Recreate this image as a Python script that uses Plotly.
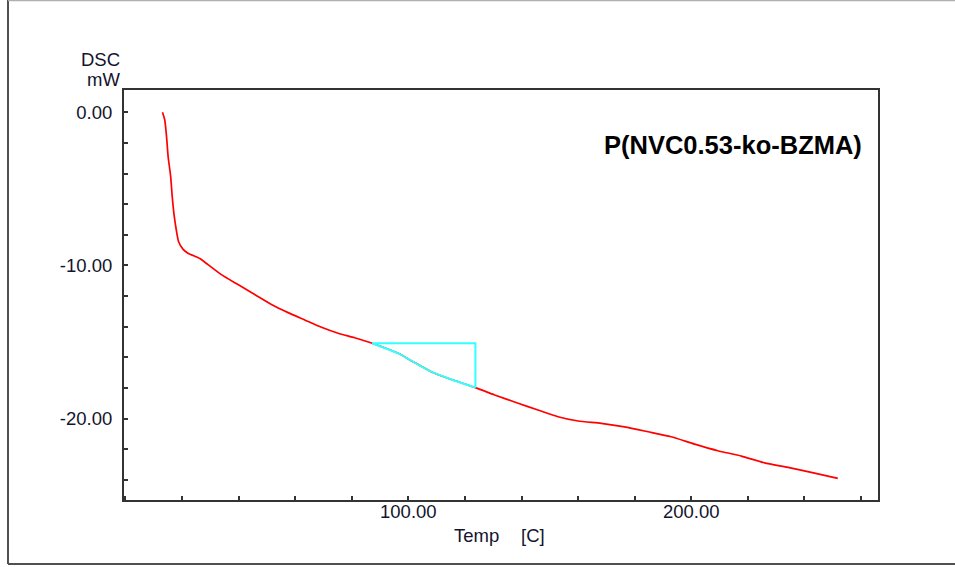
import plotly.graph_objects as go

# DSC curve
temp = [13.1, 13.9, 14.5, 15.1, 16.0, 16.5, 17.2, 18.0, 18.8, 20.4, 22.1, 26.3, 29.2, 33.9,
        39.8, 45.7, 51.6, 57.5, 63.4, 69.3, 75.2, 81.0, 87.2, 96.4, 101.7, 108.1, 114.0,
        123.7, 130.5, 138.8, 145.8, 152.9, 160.0, 168.2, 176.4, 184.7, 192.9, 201.2,
        209.4, 217.7, 225.9, 234.2, 242.4, 251.8]
dsc = [0.0, -0.5, -1.5, -2.9, -4.2, -5.4, -6.7, -7.7, -8.45, -8.95, -9.2, -9.55, -9.95,
       -10.6, -11.25, -11.9, -12.55, -13.08, -13.56, -14.04, -14.43, -14.72, -15.08, -15.74,
       -16.29, -16.94, -17.37, -17.98, -18.46, -19.0, -19.44, -19.88, -20.16, -20.31,
       -20.54, -20.86, -21.19, -21.67, -22.1, -22.45, -22.89, -23.19, -23.52, -23.91]

# Cyan glass-transition construction
tg_curve_t = [87.2, 96.4, 101.7, 108.1, 114.0, 123.7]
tg_curve_d = [-15.08, -15.74, -16.29, -16.94, -17.37, -17.98]
tg_box_t = [87.2, 123.7, 123.7]
tg_box_d = [-15.08, -15.08, -17.98]

x_tickvals = [100, 200]
x_ticktext = ["100.00", "200.00"]
y_tickvals = [0, -10, -20]
y_ticktext = ["0.00", "-10.00", "-20.00"]

title_text = "P(NVC0.53-ko-BZMA)"

FONT = "Arial, Liberation Sans, sans-serif"
TXT = "#14142c"

fig = go.Figure()
fig.add_trace(go.Scatter(x=temp, y=dsc, mode="lines", line_shape="spline",
                         line=dict(color="#ff0000", width=1.7, smoothing=0.6),
                         hoverinfo="skip"))
fig.add_trace(go.Scatter(x=tg_curve_t, y=tg_curve_d, mode="lines", line_shape="spline",
                         line=dict(color="#33ffff", width=2, smoothing=0.6),
                         hoverinfo="skip"))
fig.add_trace(go.Scatter(x=tg_box_t, y=tg_box_d, mode="lines",
                         line=dict(color="#33ffff", width=2), hoverinfo="skip"))

axis_common = dict(showline=True, linecolor="#333333", linewidth=2, mirror=True,
                   ticks="inside", ticklen=4, tickcolor="#333333", tickwidth=1.5,
                   showgrid=False, zeroline=False,
                   tickfont=dict(family=FONT, size=18.5, color=TXT))

fig.update_xaxes(range=[-0.5, 266], tickvals=x_tickvals, ticktext=x_ticktext,
                 minor=dict(tick0=0, dtick=20, ticks="inside", ticklen=4,
                            tickcolor="#333333", tickwidth=1.5, showgrid=False),
                 ticklabelstandoff=-6, **axis_common)
fig.update_yaxes(range=[-25.32, 1.46], tickvals=y_tickvals, ticktext=y_ticktext,
                 minor=dict(tick0=0, dtick=2, ticks="inside", ticklen=4,
                            tickcolor="#333333", tickwidth=1.5, showgrid=False),
                 ticklabelstandoff=6, **axis_common)

L, R, T, B = 124, 878, 90, 500
W, H = R - L, B - T


def px(x):
    return (x - L) / W


def py(y):
    return (B - y) / H


annotations = [
    dict(text="DSC", x=px(122), y=py(60), xanchor="right", yanchor="middle"),
    dict(text="mW", x=px(122), y=py(80), xanchor="right", yanchor="middle"),
    dict(text="Temp", x=px(452), y=py(535), xanchor="left", yanchor="middle"),
    dict(text="[C]", x=px(519), y=py(535), xanchor="left", yanchor="middle"),
]
for a in annotations:
    a.update(xref="paper", yref="paper", showarrow=False,
             font=dict(family=FONT, size=18.5, color=TXT))
annotations.append(dict(text="<b>" + title_text + "</b>", x=px(733), y=py(145),
                        xref="paper", yref="paper", xanchor="center", yanchor="middle",
                        showarrow=False, font=dict(family=FONT, size=25.5, color="#000000")))

shapes = [
    dict(type="line", xref="paper", yref="paper", x0=px(8), x1=px(8), y0=py(564), y1=py(0),
         line=dict(color="#505050", width=2)),
    dict(type="line", xref="paper", yref="paper", x0=px(8), x1=px(960), y0=py(564), y1=py(564),
         line=dict(color="#505050", width=2)),
    dict(type="line", xref="paper", yref="paper", x0=px(8), x1=px(960), y0=py(0.5), y1=py(0.5),
         line=dict(color="#b0b0b0", width=1.5)),
]

fig.update_layout(width=955, height=567, showlegend=False,
                  margin=dict(l=L, r=955 - R, t=T, b=567 - B),
                  paper_bgcolor="white", plot_bgcolor="white",
                  annotations=annotations, shapes=shapes)

fig.write_html("out.html")
